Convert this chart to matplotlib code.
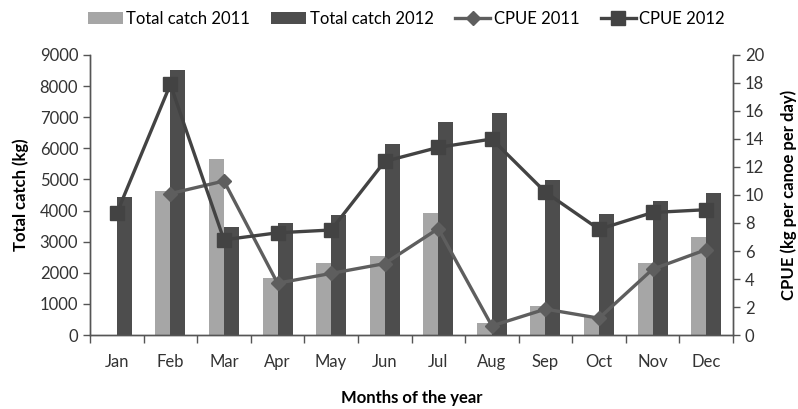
import numpy as np
import matplotlib.pyplot as plt

plt.rcParams['font.family'] = ['Lato', 'DejaVu Sans']

months = ['Jan', 'Feb', 'Mar', 'Apr', 'May', 'Jun',
          'Jul', 'Aug', 'Sep', 'Oct', 'Nov', 'Dec']
catch_2011 = [0, 4640, 5660, 1830, 2300, 2530, 3910, 380, 920, 600, 2330, 3160]
catch_2012 = [4450, 8520, 3480, 3590, 3860, 6140, 6860, 7150, 4990, 3880, 4310, 4570]
cpue_2011 = [np.nan, 10.1, 11.0, 3.7, 4.4, 5.1, 7.6, 0.65, 1.85, 1.2, 4.7, 6.1]
cpue_2012 = [8.7, 17.9, 6.8, 7.3, 7.5, 12.4, 13.4, 14.0, 10.2, 7.55, 8.75, 8.95]

light = '#a6a6a6'
dark = '#4d4d4d'

fig = plt.figure(figsize=(7.98, 4.09), dpi=100)
ax = fig.add_axes([90 / 798, 74 / 409, 643 / 798, 280 / 409])
ax2 = ax.twinx()

x = np.arange(len(months))
w = 0.28
b1 = ax.bar(x - w / 2, catch_2011, w, color=light, label='Total catch 2011', zorder=2)
b2 = ax.bar(x + w / 2, catch_2012, w, color=dark, label='Total catch 2012', zorder=2)

l1, = ax2.plot(x, cpue_2011, color='#5e5e5e', lw=2.4, marker='D', ms=7,
               label='CPUE 2011', zorder=3)
l2, = ax2.plot(x, cpue_2012, color='#434343', lw=2.4, marker='s', ms=10.5,
               label='CPUE 2012', zorder=4)

ax.set_xlim(-0.5, len(months) - 0.5)
ax.set_ylim(0, 9000)
ax.set_yticks(np.arange(0, 9001, 1000))
ax2.set_ylim(0, 20)
ax2.set_yticks(np.arange(0, 21, 2))

ax.set_xticks(x)
ax.set_xticklabels(months)
ax.set_xticks(np.arange(-0.5, len(months)), minor=True)
ax.tick_params(axis='x', which='major', length=0, pad=14, labelsize=12, colors='#333333')
ax.tick_params(axis='x', which='minor', length=6, width=1, color='#555555')
ax.tick_params(axis='y', length=5, width=1, labelsize=12, colors='#333333', color='#555555')
ax2.tick_params(axis='y', length=5, width=1, labelsize=12, colors='#333333', color='#555555')

for a in (ax, ax2):
    a.spines['top'].set_visible(False)
    for s in ('left', 'right', 'bottom'):
        a.spines[s].set_color('#555555')
        a.spines[s].set_linewidth(1)

ax.set_xlabel('Months of the year', fontsize=12, fontweight='bold', labelpad=14)
ax.set_ylabel('Total catch (kg)', fontsize=12, fontweight='bold', labelpad=8)
ax2.set_ylabel('CPUE (kg per canoe per day)', fontsize=12, fontweight='bold', labelpad=12)

fig.legend([b1, b2, l1, l2],
           ['Total catch 2011', 'Total catch 2012', 'CPUE 2011', 'CPUE 2012'],
           loc='upper center', bbox_to_anchor=(0.509, 1.01), ncol=4, frameon=False,
           fontsize=12, handlelength=2.1, columnspacing=1.3, handletextpad=0.2)

fig.savefig('out.png', dpi=100)
